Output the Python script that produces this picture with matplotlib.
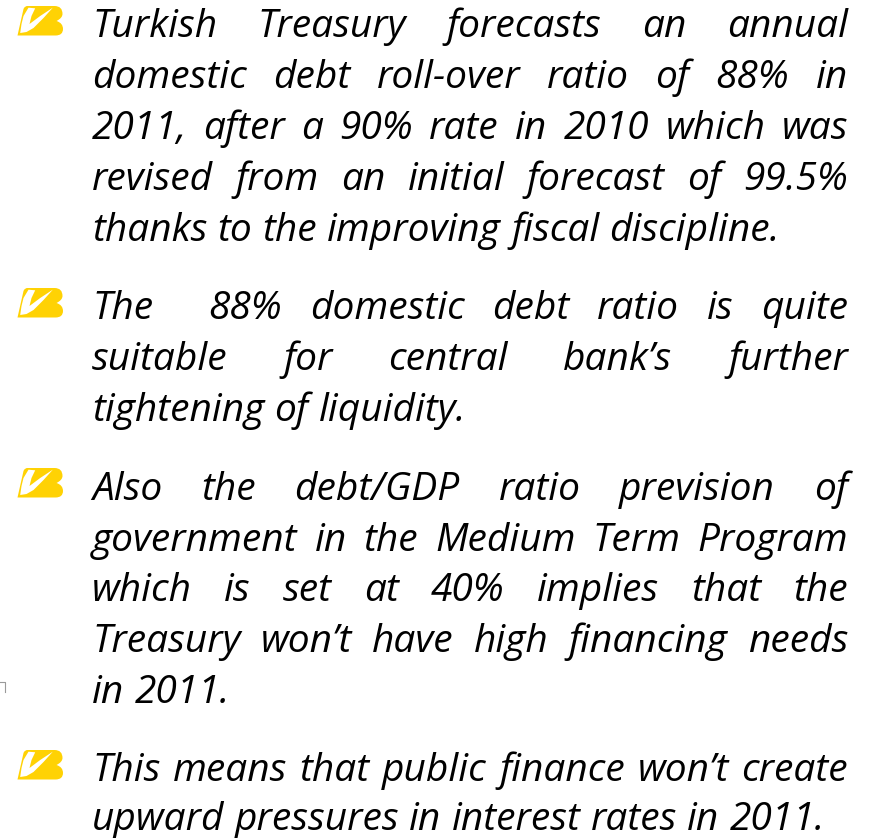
import matplotlib
matplotlib.use("Agg")
import matplotlib.pyplot as plt
from matplotlib.path import Path
from matplotlib.patches import PathPatch
from matplotlib.transforms import Affine2D

W, H = 873, 838
LEFT, RIGHT = 92, 848
FONT_SIZE = 28
FONT = "Open Sans"

# (text, baseline y, justified)
lines = [
    ("Turkish Treasury forecasts an annual", 37, True),
    ("domestic debt roll-over ratio of 88% in", 88, True),
    ("2011, after a 90% rate in 2010 which was", 139, True),
    ("revised from an initial forecast of 99.5%", 190, True),
    ("thanks to the improving fiscal discipline.", 241, False),
    ("The  88% domestic debt ratio is quite", 319, True),
    ("suitable for central bank\u2019s further", 370, True),
    ("tightening of liquidity.", 421, False),
    ("Also the debt/GDP ratio prevision of", 500, True),
    ("government in the Medium Term Program", 551, True),
    ("which is set at 40% implies that the", 601, True),
    ("Treasury won\u2019t have high financing needs", 652, True),
    ("in 2011.", 703, False),
    ("This means that public finance won\u2019t create", 781, True),
    ("upward pressures in interest rates in 2011.", 830, False),
]
bullet_x = [17.5, 17.5, 17.5, 17.5]
bullet_y = [6, 288, 468, 750]

fig = plt.figure(figsize=(W / 100, H / 100), dpi=100)
ax = fig.add_axes([0, 0, 1, 1])
ax.set_xlim(0, W)
ax.set_ylim(H, 0)
ax.axis("off")

renderer = fig.canvas.get_renderer()


def word_width(word):
    if not word:
        return 0
    t = ax.text(0, 0, word, fontsize=FONT_SIZE, family=FONT, style="italic")
    w = t.get_window_extent(renderer).width
    t.remove()
    return w


# Justified lines are set word by word so both edges line up
for text, y, justified in lines:
    words = text.split(" ")
    widths = [word_width(w) for w in words]
    if justified:
        gap = (RIGHT - LEFT - sum(widths)) / (len(words) - 1)
    else:
        gap = word_width("a a") - 2 * word_width("a")
    x = LEFT
    for word, width in zip(words, widths):
        if word:
            ax.text(x, y, word, fontsize=FONT_SIZE, family=FONT, style="italic",
                    color="black", ha="left", va="baseline")
        x += width + gap

# Bullet glyph, drawn once around its own origin
M, L, C = Path.MOVETO, Path.LINETO, Path.CURVE3
badge = Path(
    [(0, 29.5), (6, 3), (7, 0), (10, 0), (37, 0), (45, 0), (45, 8), (45, 12), (39, 15),
     (45.5, 17), (45.5, 23), (45.5, 29.5), (38, 29.5), (0, 29.5)],
    [M, L, C, C, L, C, C, C, C, C, C, C, C, L],
)
tick = Path(
    [(11, 1.7), (17.7, 2.3), (14, 10), (12, 18), (22.7, 10), (35.3, 1.7), (26, 12),
     (16, 22), (9, 26), (2.7, 27), (4, 18), (6, 10), (11, 1.7)],
)
for bx, by in zip(bullet_x, bullet_y):
    tr = Affine2D().translate(bx, by) + ax.transData
    ax.add_patch(PathPatch(badge, facecolor="#FFD204", edgecolor="none", transform=tr))
    ax.add_patch(PathPatch(tick, facecolor="white", edgecolor="none", transform=tr))

# Small stray corner mark at the left edge
ax.plot([0, 5, 5], [682, 682, 692], color="#9A9A9A", lw=0.8)

fig.savefig("out.png", dpi=100)
